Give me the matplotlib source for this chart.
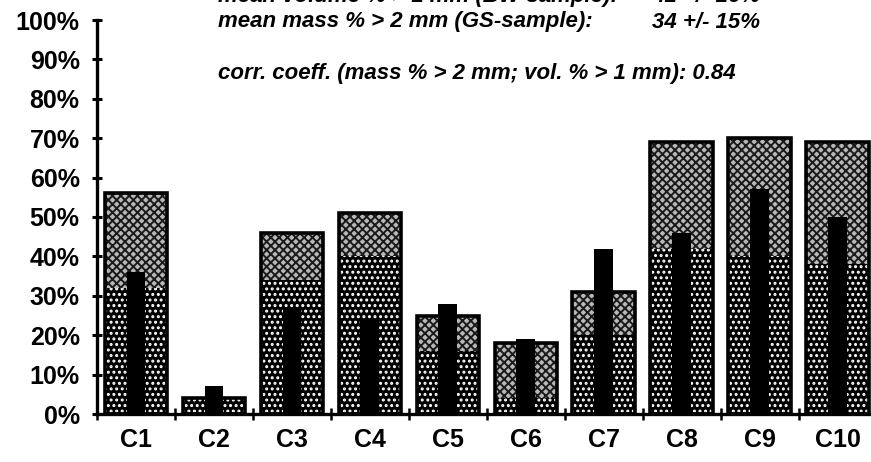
import matplotlib
matplotlib.use("Agg")
import matplotlib.pyplot as plt
import numpy as np

# Sample labels and percentages (fraction of total, in %)
categories = ["C1", "C2", "C3", "C4", "C5", "C6", "C7", "C8", "C9", "C10"]
lower_part = [32, 4, 34, 40, 16, 4, 20, 42, 40, 38]      # dotted lower section
upper_part = [24, 0, 12, 11, 9, 14, 11, 27, 30, 31]      # grey upper section
black_bar = [36, 7, 27, 24, 28, 19, 42, 46, 57, 50]      # narrow black bar
y_ticks = [0, 10, 20, 30, 40, 50, 60, 70, 80, 90, 100]

header_lines = [
    ("mean volume % > 1 mm (BW-sample):", "41 +/- 16%"),
    ("mean mass % > 2 mm (GS-sample):", "34 +/- 15%"),
    ("", ""),
    ("corr. coeff. (mass % > 2 mm; vol. % > 1 mm): 0.84", ""),
]

plt.rcParams["font.family"] = ["Liberation Sans", "DejaVu Sans"]
plt.rcParams["hatch.linewidth"] = 1.4

W, H = 871, 462
fig = plt.figure(figsize=(W / 100, H / 100), dpi=100)
fig.patch.set_facecolor("white")
ax = fig.add_axes([97 / W, 1 - 414 / H, 1 - 97 / W, (414 - 20) / H])

x = np.arange(len(categories))
lower = np.array(lower_part)
upper = np.array(upper_part)
total = lower + upper

# lower section: black with white dots
ax.bar(x, lower, width=0.8, color="black", edgecolor="white", hatch="...",
       linewidth=0, zorder=2)
# upper section: fine grey checker
ax.bar(x, upper, bottom=lower, width=0.8, color="#b8b8b8", edgecolor="#1a1a1a",
       hatch="xxxx", linewidth=0, zorder=2)
# outline of the stacked bar
ax.bar(x, total, width=0.8, fill=False, edgecolor="black", linewidth=2.6, zorder=3)
# narrow black bar
ax.bar(x, black_bar, width=0.24, color="black", linewidth=0, zorder=4)

ax.set_xlim(-0.5, 9.43)
ax.set_ylim(0, 100)

for side in ["top", "right"]:
    ax.spines[side].set_visible(False)
ax.spines["left"].set_linewidth(2.4)
ax.spines["bottom"].set_linewidth(2.4)

ax.set_yticks(y_ticks)
ax.set_yticklabels([f"{v}%" for v in y_ticks], fontweight="bold")
ax.tick_params(axis="y", direction="inout", length=7, width=2.2, pad=9,
               labelsize=18)

# boundary ticks on x, category labels on minor ticks
ax.set_xticks(np.arange(-0.5, 9.0, 1.0))
ax.set_xticklabels([])
ax.tick_params(axis="x", which="major", direction="inout", length=8, width=1.8)
ax.set_xticks(x, minor=True)
ax.set_xticklabels(categories, minor=True, fontweight="bold")
ax.tick_params(axis="x", which="minor", length=0, pad=10, labelsize=18)

# header statistics
y0 = 1 - (-4) / H
dy = 26 / H
for i, (left, right) in enumerate(header_lines):
    yy = y0 - i * dy
    if left:
        fig.text(218 / W, yy, left, ha="left", va="center", fontsize=16,
                 fontstyle="italic", fontweight="bold")
    if right:
        fig.text(652 / W, yy, right, ha="left", va="center", fontsize=16,
                 fontstyle="italic", fontweight="bold")

fig.savefig("out.png", dpi=100, facecolor="white")
